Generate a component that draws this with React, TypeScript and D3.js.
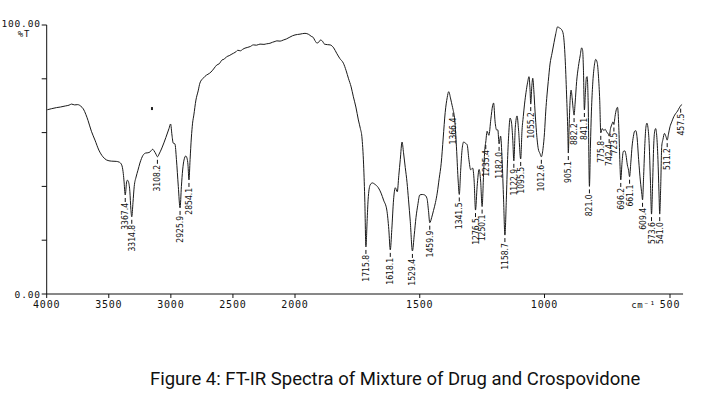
import React, { useEffect, useRef } from 'react';
import * as d3 from 'd3';

// wavenumber (cm-1) and %T
const wavenumber = [
  3995, 3960, 3920, 3890, 3850, 3820, 3800, 3775, 3750, 3725, 3705, 3685, 3667, 3640, 3611, 3580, 3547, 3517,
  3480, 3440, 3415, 3396, 3385, 3378, 3367.4, 3356, 3350, 3340, 3330, 3322, 3314.8, 3305, 3295, 3280, 3265,
  3249, 3225, 3203, 3185, 3168, 3146, 3135, 3120, 3108.2, 3095, 3072, 3040, 3015, 3002, 2991, 2981, 2967,
  2955, 2940, 2925.9, 2915, 2905, 2894, 2880, 2870, 2862, 2854.1, 2845, 2835, 2825, 2815, 2798, 2780, 2766,
  2740, 2712, 2690, 2677, 2650, 2631, 2610, 2588, 2570, 2551, 2530, 2508, 2480, 2460, 2440, 2420, 2403, 2380,
  2360, 2336, 2310, 2282, 2250, 2230, 2202, 2180, 2160, 2146, 2120, 2095, 2070, 2041, 2020, 2000, 1980, 1960,
  1945, 1935, 1927, 1920, 1912, 1906, 1898, 1890, 1882, 1870, 1859, 1845, 1833, 1820, 1806, 1795, 1786, 1775,
  1766, 1756, 1746, 1738, 1732, 1725, 1720, 1715.8, 1711, 1707, 1699, 1690, 1680, 1666, 1655, 1645, 1632,
  1624, 1618.1, 1612, 1605, 1598, 1590, 1584, 1578, 1571, 1565, 1558, 1551, 1545, 1538, 1529.4, 1522, 1515,
  1508, 1500, 1490, 1480, 1471, 1465, 1459.9, 1452, 1445, 1437, 1430, 1422, 1414, 1406, 1398, 1390, 1384,
  1376, 1370, 1366.4, 1360, 1352, 1346, 1341.5, 1336, 1330, 1324, 1316, 1310, 1303, 1296, 1288, 1282, 1276.5,
  1270, 1262, 1256, 1250.1, 1244, 1239, 1235.4, 1230, 1223, 1215, 1208, 1204, 1198, 1192, 1187, 1182.0, 1176,
  1170, 1164, 1158.7, 1153, 1148, 1143, 1138, 1132, 1127, 1122.9, 1117, 1110, 1104, 1095.5, 1090, 1085, 1080,
  1074, 1068, 1062, 1058, 1055.2, 1051, 1047, 1043, 1038, 1032, 1025, 1018, 1012.6, 1006, 1000, 995, 990, 985,
  978, 970, 962, 955, 948, 940, 932, 925, 918, 912, 907, 905.1, 902, 898, 894, 890, 886, 882.2, 878, 872, 865,
  858, 852, 848, 845, 841.1, 837, 833, 830, 826, 821.0, 817, 813, 808, 802, 796, 790, 785, 780, 775.8, 770,
  764, 758, 752, 746, 742.4, 737, 731, 727, 723.5, 719, 714, 709, 704, 700, 696.2, 691, 686, 680, 675, 670,
  665, 661.1, 656, 651, 646, 641, 636, 631, 625, 618, 612, 609.4, 605, 600, 596, 592, 588, 583, 578, 573.6,
  569, 565, 561, 557, 553, 548, 544, 541.0, 537, 533, 528, 522, 516, 511.2, 506, 500, 493, 485, 478, 470, 463,
  457.5, 452,
];

const transmittance = [
  68.5, 68.9, 69.3, 69.5, 69.9, 70.2, 70.6, 70.3, 70.4, 69.8, 68.8, 66.8, 64.5, 60.5, 57.2, 53.5, 51.0, 49.8,
  49.4, 49.3, 49.0, 48.0, 45.5, 42.4, 36.8, 41.7, 42.3, 41.5, 38, 31.5, 28.7, 34, 40, 43.5, 46,
  48.7, 51.5, 52.4, 52.5, 52.8, 53.8, 53.2, 52, 51.0, 52, 54.3, 58.2, 61.5, 63.2, 59.1, 56.1, 55.8,
  50, 40, 32.0, 40, 46.1, 49.8, 51.3, 50.5, 48.0, 42.4, 50, 58, 63.5, 66.5, 72.1, 75.5, 78.4,
  80.2, 81.4, 82.0, 82.5, 84.0, 85.1, 85.6, 87.0, 87.3, 88.2, 88.6, 89.2, 89.9, 90.6, 90.4, 91.0, 91.4, 91.7,
  92.0, 92.6, 92.5, 92.9, 92.8, 93.0, 93.2, 93.6, 93.9, 94.1, 94.0, 94.4, 94.8, 95.5, 96.0, 96.3, 96.6, 96.9,
  96.5, 95.8, 95.4, 94.2, 93.3, 93.5, 94.4, 94.0, 92.9, 92.7, 92.6, 91.5, 89.5, 87.5, 85.8, 83.0, 80.2, 77.0,
  73.3, 69.5, 64.7, 61.5, 58.5, 48, 34, 17.5, 27, 35, 40.5, 41.3, 40.8, 39.5, 37.5, 34.9, 31.2,
  24, 16.4, 24, 35, 39.5, 38, 44, 50, 56.5, 52.5, 47, 41.5, 35, 27, 16.0, 22, 28.5,
  33, 36.8, 37, 36.8, 35.5, 31, 26.5, 28.5, 31, 34, 37.5, 43, 48.6, 58, 67.5, 73, 75.2,
  72.5, 70, 68.5, 65, 53, 42, 37.0, 46, 54, 56.5, 56, 55.5, 50, 46.2, 46.8, 42, 31.2,
  40, 46.3, 42, 32.5, 45, 54, 56.5, 60.5, 59, 65, 70, 71, 64, 61, 61, 55.8, 58.7,
  50, 35, 21.9, 35, 50, 60, 65.4, 63.5, 57, 49.5, 62, 66.2, 61, 50.2, 61, 66, 70.6,
  75, 78.5, 80.8, 76, 70.6, 77, 80.2, 76, 68, 60, 54, 52.2, 51.0, 54, 60, 68, 74, 79,
  85.5, 89.5, 93.5, 96.8, 99.3, 98.9, 98.3, 96.5, 88, 74, 60, 52.4, 62, 72, 75.8, 73, 69, 66.5, 71, 79, 84.5,
  88.5, 91.5, 90.5, 84, 68.4, 75, 80.5, 80.8, 71, 40.0, 55, 68, 78, 84.5, 87.2, 86, 81, 72, 59.9, 61.5,
  60.8, 61.2, 60.2, 59.5, 58.7, 61.5, 63.2, 64, 63.0, 66, 68.5, 69.4, 62, 50, 42.4, 49, 53, 53.2, 51.5, 48,
  46, 43.6, 49, 55, 58.5, 60.5, 60.7, 58, 50, 42, 37, 35.0, 44, 56, 62, 63.5, 62, 56, 42, 29.7,
  42, 55, 60.5, 61.5, 59, 50, 38, 29.7, 40, 54.8, 57.5, 59.7, 58.5, 57.2, 59.5, 62.2, 64, 65.9, 67, 68, 69.2,
  70.0, 70.5,
];

// labelled band positions
const peakLabels = [
  '3367.4', '3314.8', '3108.2', '2925.9', '2854.1', '1715.8', '1618.1', '1529.4', '1459.9', '1366.4',
  '1341.5', '1276.5', '1250.1', '1235.4', '1182.0', '1158.7', '1122.9', '1095.5', '1055.2', '1012.6',
  '905.1', '882.2', '841.1', '821.0', '775.8', '742.4', '723.5', '696.2', '661.1', '609.4', '573.6',
  '541.0', '511.2', '457.5',
];

const xTicks = [4000, 3500, 3000, 2500, 2000, 1500, 1000, 500];

const App: React.FC = () => {
  const svgRef = useRef<SVGSVGElement>(null);

  useEffect(() => {
    if (!svgRef.current) return;
    const svg = d3.select(svgRef.current);
    svg.selectAll('*').remove();

    const monoFont = "'DejaVu Sans Mono', monospace";
    const narrowFont = "'Liberation Sans Narrow', 'DejaVu Sans Condensed', sans-serif";

    // instrument plot: region above 2000 cm-1 is compressed
    const x = d3.scaleLinear()
      .domain([4000, 2000, 1000, 500])
      .range([46.7, 295, 544.5, 670]);
    const y = d3.scaleLinear().domain([0, 100]).range([294, 25]);

    const points = wavenumber.map((w, i) => ({ w, t: transmittance[i] }));

    // axes
    const axisG = svg.append('g').attr('stroke', '#111').attr('stroke-width', 1);
    axisG.append('line')
      .attr('x1', x(4000)).attr('x2', x(4000))
      .attr('y1', y(100)).attr('y2', y(0));
    axisG.append('line')
      .attr('x1', x(4000)).attr('x2', x(448))
      .attr('y1', y(0)).attr('y2', y(0));

    d3.range(0, 101, 20).forEach(v => {
      axisG.append('line')
        .attr('x1', x(4000) - 5).attr('x2', x(4000))
        .attr('y1', y(v)).attr('y2', y(v));
    });
    xTicks.forEach(v => {
      axisG.append('line')
        .attr('x1', x(v)).attr('x2', x(v))
        .attr('y1', y(0)).attr('y2', y(0) + 4);
    });

    const labelG = svg.append('g')
      .attr('font-family', monoFont)
      .attr('font-size', 10)
      .attr('letter-spacing', 0.8)
      .attr('fill', '#111');
    labelG.append('text')
      .attr('x', x(4000) - 6).attr('y', y(100) + 2)
      .attr('text-anchor', 'end')
      .attr('font-size', 9.5)
      .text('100.00');
    labelG.append('text')
      .attr('x', 24).attr('y', y(100) + 12)
      .attr('text-anchor', 'middle')
      .attr('font-size', 9)
      .text('%T');
    labelG.append('text')
      .attr('x', x(4000) - 6).attr('y', y(0) + 3.5)
      .attr('text-anchor', 'end')
      .attr('font-size', 9.5)
      .text('0.00');
    xTicks.forEach(v => {
      labelG.append('text')
        .attr('x', x(v)).attr('y', y(0) + 14)
        .attr('text-anchor', 'middle')
        .text(v);
    });
    labelG.append('text')
      .attr('x', x(500) - 14).attr('y', y(0) + 14)
      .attr('text-anchor', 'end')
      .attr('font-size', 9)
      .text('cm⁻¹');

    // small stray mark on the scan
    svg.append('rect')
      .attr('x', x(3160)).attr('y', y(69.5))
      .attr('width', 2).attr('height', 3)
      .attr('fill', '#222');

    // spectrum
    const line = d3.line<{ w: number; t: number }>()
      .x(d => x(d.w))
      .y(d => y(d.t))
      .curve(d3.curveMonotoneX);

    svg.append('path')
      .datum(points)
      .attr('d', line)
      .attr('fill', 'none')
      .attr('stroke', '#1a1a1a')
      .attr('stroke-width', 1)
      .attr('stroke-linejoin', 'round');

    // peak labels under each band
    const peakG = svg.append('g');
    peakLabels.forEach(lbl => {
      const w = +lbl;
      const p = points.find(d => Math.abs(d.w - w) < 0.01);
      if (!p) return;
      const px = x(p.w);
      const py = y(p.t);
      peakG.append('line')
        .attr('x1', px).attr('x2', px)
        .attr('y1', py + 3).attr('y2', py + 7)
        .attr('stroke', '#111').attr('stroke-width', 1);
      peakG.append('text')
        .attr('transform', `translate(${px + 3},${py + 8}) rotate(-90)`)
        .attr('text-anchor', 'end')
        .attr('font-family', narrowFont)
        .attr('font-size', 8.5)
        .attr('fill', '#111')
        .text(lbl);
    });

    // caption
    svg.append('text')
      .attr('x', 150).attr('y', 385)
      .attr('font-family', 'Roboto, sans-serif')
      .attr('font-size', 18.5)
      .attr('fill', '#111')
      .text('Figure 4: FT-IR Spectra of Mixture of Drug and Crospovidone');
  }, []);

  return (
    <svg
      ref={svgRef}
      width={702}
      height={396}
      style={{ position: 'absolute', left: 0, top: 0, background: '#fff' }}
    />
  );
};

export default App;
